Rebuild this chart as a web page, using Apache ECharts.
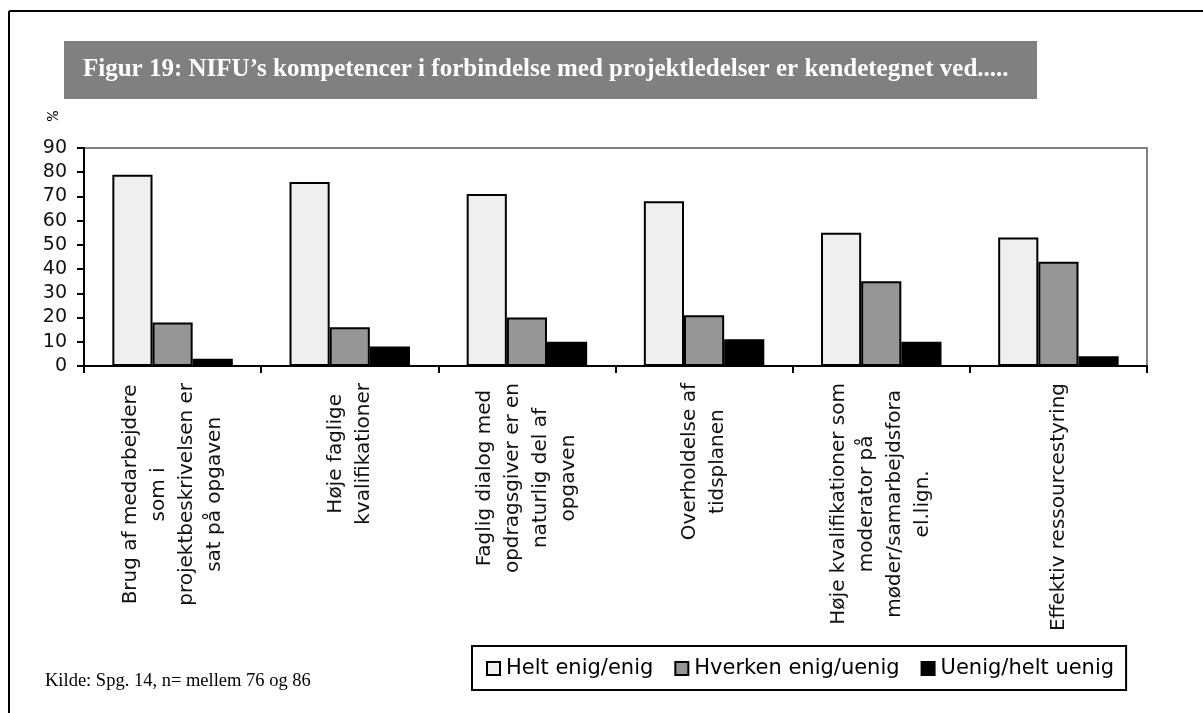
<!DOCTYPE html>
<html>
<head>
<meta charset="utf-8">
<script src="https://cdn.jsdelivr.net/npm/echarts@6/dist/echarts.min.js"></script>
<style>
html,body{margin:0;padding:0;background:#fff;}
#chart{width:1203px;height:713px;}
</style>
</head>
<body>
<div id="chart"></div>
<script>
var categories = [
  'Brug af medarbejdere\nsom i\nprojektbeskrivelsen er\nsat på opgaven',
  'Høje faglige\nkvalifikationer',
  'Faglig dialog med\nopdragsgiver er en\nnaturlig del af\nopgaven',
  'Overholdelse af\ntidsplanen',
  'Høje kvalifikationer som\nmoderator på\nmøder/samarbejdsfora\nel.lign.',
  'Effektiv ressourcestyring'
];
var seriesNames = ['Helt enig/enig', 'Hverken enig/uenig', 'Uenig/helt uenig'];
var heltEnig = [79, 76, 71, 68, 55, 53];
var hverken = [18, 16, 20, 21, 35, 43];
var uenig = [3, 8, 10, 11, 10, 4];
var yTicks = [0, 10, 20, 30, 40, 50, 60, 70, 80, 90];
var titleText = 'Figur 19: NIFU\u2019s kompetencer i forbindelse med projektledelser er kendetegnet ved.....';
var sourceText = 'Kilde: Spg. 14, n= mellem 76 og 86';
var unitText = '%';

var SANS = "'DejaVu Sans', sans-serif";
var SERIF = "'Liberation Serif', 'Times New Roman', serif";
var colors = ['#efefef', '#969696', '#000000'];
var values = [heltEnig, hverken, uenig];

var chart = echarts.init(document.getElementById('chart'), null, {renderer: 'canvas'});

var series = seriesNames.map(function (name, i) {
  return {
    name: name,
    type: 'bar',
    data: values[i],
    barGap: '0%',
    barCategoryGap: '32%',
    itemStyle: {color: colors[i], borderColor: '#000', borderWidth: 2},
    emphasis: {disabled: true},
    animation: false
  };
});

chart.setOption({
  animation: false,
  backgroundColor: '#ffffff',
  title: [
    {
      text: titleText,
      left: 83,
      top: 70,
      textVerticalAlign: 'middle',
      textStyle: {color: '#ffffff', fontFamily: SERIF, fontWeight: 'bold', fontSize: 25},
      padding: 0,
      z: 10
    },
    {
      text: sourceText,
      left: 45,
      top: 672,
      textStyle: {color: '#000', fontFamily: SERIF, fontWeight: 'normal', fontSize: 18.5},
      padding: 0
    }
  ],
  graphic: [
    {type: 'line', shape: {x1: 9, y1: 11, x2: 1203, y2: 11}, style: {stroke: '#000', lineWidth: 2}, z: 0},
    {type: 'line', shape: {x1: 9, y1: 11, x2: 9, y2: 713}, style: {stroke: '#000', lineWidth: 2}, z: 0},
    {type: 'rect', shape: {x: 64, y: 41, width: 973, height: 58}, style: {fill: '#808080'}, z: 1},
    {type: 'text', x: 51, y: 116, rotation: -Math.PI / 2,
     style: {text: unitText, fill: '#000', align: 'center', verticalAlign: 'middle',
             font: "17px 'Liberation Mono', 'DejaVu Sans Mono', monospace"}, z: 1}
  ],
  legend: {
    data: seriesNames,
    left: 472,
    top: 646,
    orient: 'horizontal',
    borderColor: '#000',
    borderWidth: 2,
    padding: [12, 12, 11, 14],
    itemWidth: 13,
    itemHeight: 13,
    itemGap: 21,
    icon: 'rect',
    textStyle: {fontFamily: SANS, fontSize: 21, color: '#000', padding: [0, 0, 0, 1]},
    selectedMode: false
  },
  grid: {
    left: 84,
    top: 148,
    right: 56,
    bottom: 347,
    containLabel: false,
    outerBoundsMode: 'none',
    show: true,
    borderColor: '#808080',
    borderWidth: 2,
    backgroundColor: '#ffffff'
  },
  xAxis: {
    type: 'category',
    data: categories,
    axisLine: {show: true, lineStyle: {color: '#000', width: 2}},
    axisTick: {show: true, alignWithLabel: false, length: 7, lineStyle: {color: '#000', width: 2}},
    axisLabel: {
      interval: 0,
      rotate: 90,
      margin: 17,
      formatter: function (v) {
        return v.split('\n').map(function (l) { return '{c|' + l + '}'; }).join('\n');
      },
      rich: {
        c: {align: 'center', fontFamily: SANS, fontSize: 20, lineHeight: 28, color: '#111'}
      }
    },
    splitLine: {show: false}
  },
  yAxis: {
    type: 'value',
    min: 0,
    max: 90,
    interval: 10,
    axisLine: {show: true, lineStyle: {color: '#000', width: 2}},
    axisTick: {show: true, length: 7, lineStyle: {color: '#000', width: 2}},
    axisLabel: {
      margin: 17,
      fontFamily: SANS,
      fontSize: 19,
      color: '#111',
      formatter: function (v) { return yTicks.indexOf(v) >= 0 ? String(v) : ''; }
    },
    splitLine: {show: false}
  },
  series: series
});
</script>
</body>
</html>
